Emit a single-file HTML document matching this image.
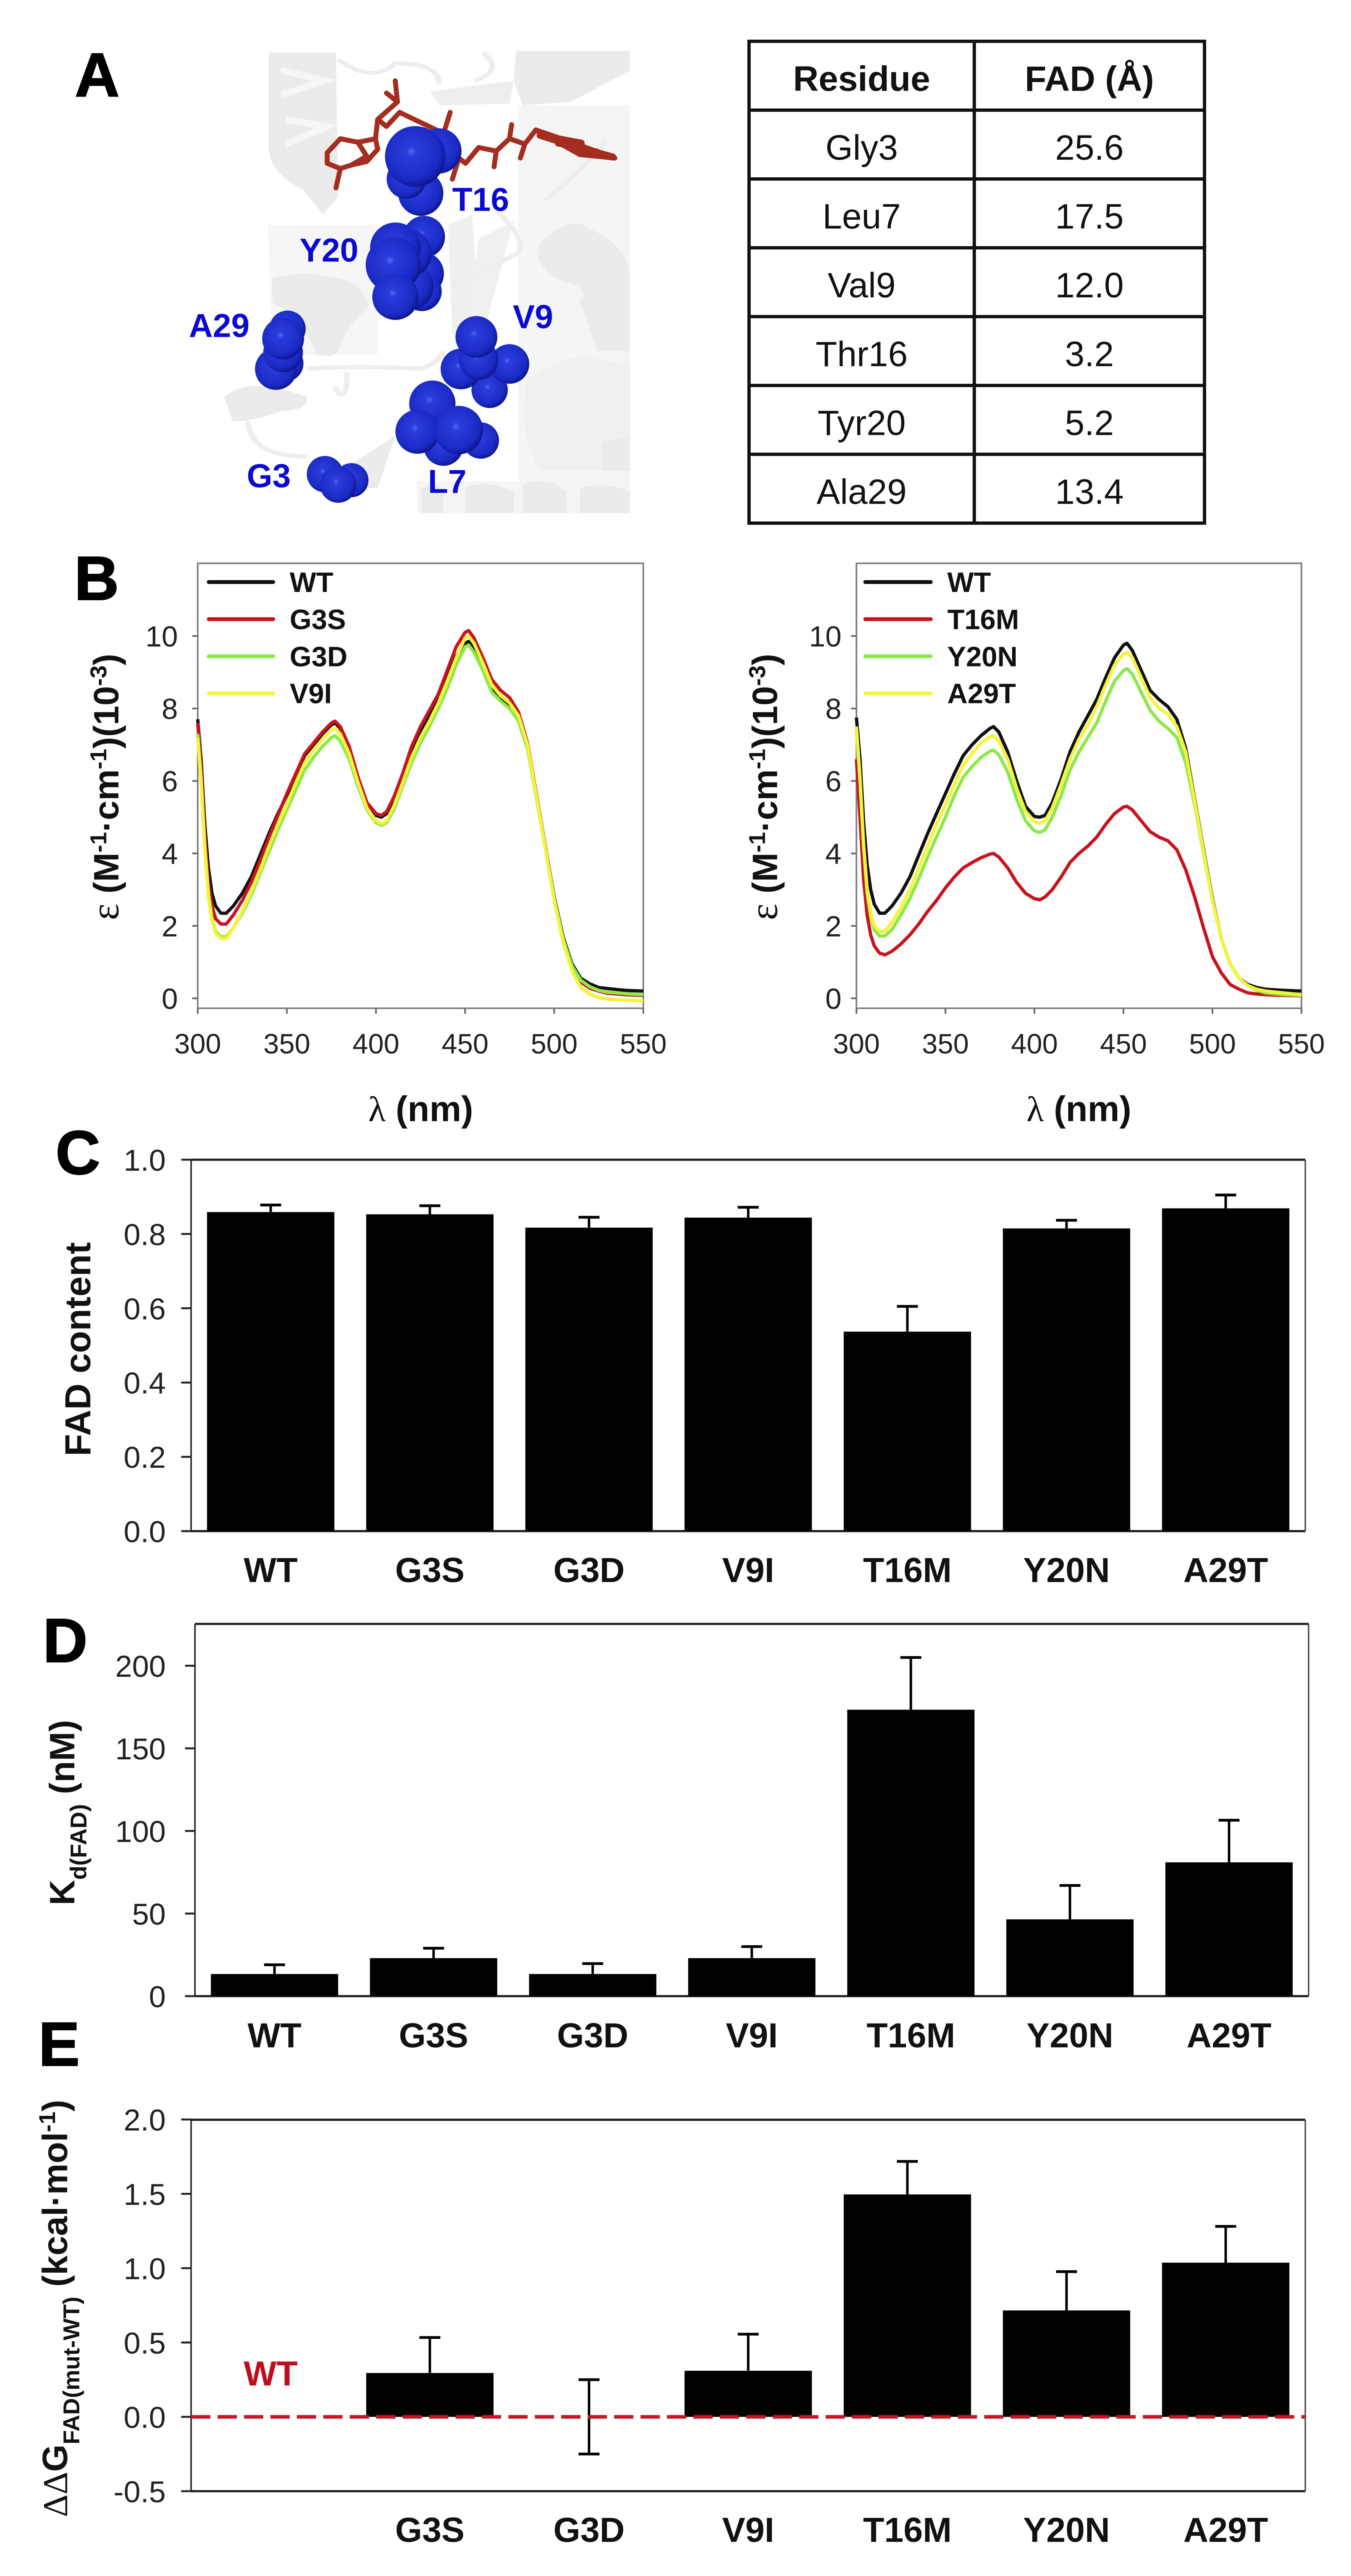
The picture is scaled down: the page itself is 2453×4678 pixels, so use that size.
<!DOCTYPE html>
<html lang="en">
<head>
<meta charset="utf-8">
<title>FAD binding figure</title>
<style>
html,body{margin:0;padding:0;background:#fff;}
body{position:relative;width:2453px;height:4678px;overflow:hidden;font-family:"Liberation Sans",sans-serif;}
#figure{position:absolute;left:0;top:0;filter:blur(0.8px);}
#residue-table{position:absolute;left:1357px;top:72px;width:827px;height:880px;border-collapse:collapse;table-layout:fixed;color:#111;font-size:64px;text-align:center;filter:blur(0.7px);}
#residue-table td,#residue-table th{border:6px solid #111;height:125px;padding:11px 0 0 0;box-sizing:border-box;line-height:1;}
#residue-table th{font-weight:bold;}
text{font-family:"Liberation Sans",sans-serif;}
.b{font-weight:bold;fill:#111;}
.t{fill:#222;}
.letter{font-weight:bold;font-size:112px;fill:#000;stroke:#000;stroke-width:2;}
.res{font-weight:bold;font-size:60px;fill:#0a0ad2;}
</style>
</head>
<body>
<svg id="figure" xmlns="http://www.w3.org/2000/svg" width="2453" height="4678" viewBox="0 0 2453 4678">
<defs>
<radialGradient id="sph" cx="44%" cy="42%" r="60%">
<stop offset="0" stop-color="#5566ee"/>
<stop offset=".14" stop-color="#2a3cdc"/>
<stop offset=".78" stop-color="#1a2ac4"/>
<stop offset="1" stop-color="#0e1488"/>
</radialGradient>
<clipPath id="protein-clip"><rect x="400" y="89" width="744" height="843"/></clipPath>
</defs>

<text class="letter" x="136" y="175">A</text>
<text class="letter" x="135" y="1089">B</text>
<text class="letter" x="101" y="2132">C</text>
<text class="letter" x="78" y="3018">D</text>
<text class="letter" x="70" y="3751">E</text>

<g clip-path="url(#protein-clip)">
<g transform="scale(0.7974,0.6378)" fill="#ebebeb">
<path d="M1180,300 H1435 V1462 H950 V1370 L1180,1370 Z" fill="#f5f5f5"/>
<path d="M610,640 H860 V1010 H620 Z" fill="#f6f6f6"/>
<path d="M612,150 L765,150 L770,560 L735,610 L690,540 Q620,500 612,430 Z"/>
<path d="M640,200 L740,230 L640,270 M650,340 L745,360 L650,410" fill="none" stroke="#f6f6f6" stroke-width="12" vector-effect="non-scaling-stroke"/>
<path d="M620,790 Q700,770 760,790 Q830,800 840,880 Q790,920 770,1000 Q760,1020 720,1010 Q700,920 620,860Z"/>
<path d="M510,1130 Q560,1080 650,1110 L700,1130 Q700,1170 640,1170 Q580,1200 530,1200Z"/>
<path d="M980,260 L1170,230 L1160,295 L1000,300Z" fill="#eeeeee"/>
<path d="M1175,145 L1435,145 L1435,200 L1300,290 L1190,300 L1170,230Z"/>
<path d="M1230,690 Q1300,610 1340,650 Q1435,700 1435,800 L1435,900 Q1330,900 1320,860 Q1350,820 1280,800 Q1210,760 1230,690Z"/>
<path d="M1020,640 L1075,610 L1090,900 L1030,950Z" fill="#efefef"/>
<path d="M1090,680 L1170,630 L1100,950 L1060,950Z" fill="#f0f0f0"/>
<path d="M1320,850 L1435,800 L1435,1000 L1360,1000Z"/>
<path d="M1200,1080 Q1300,1000 1350,1020 L1435,1040 L1435,1340 L1230,1340 Q1180,1240 1200,1080Z" fill="#f0f0f0"/>
<path d="M960,1390 Q1000,1370 1010,1400 L1010,1462 L960,1462Z"/>
<path d="M1060,1385 Q1120,1365 1170,1400 L1170,1462 L1060,1462Z"/>
<path d="M1190,1380 Q1240,1350 1290,1400 L1290,1462 L1190,1462Z"/>
<path d="M1320,1390 Q1380,1370 1435,1400 L1435,1462 L1320,1462Z"/>
<path d="M1370,1260 L1435,1240 L1435,1340 L1370,1340Z"/>
<path d="M790,1330 L900,1240 L860,1390 L830,1390Z"/>
<g fill="none" stroke="#eeeeee" stroke-width="12" vector-effect="non-scaling-stroke">
<path d="M565,1200 Q570,1300 700,1300"/>
<path d="M700,1050 Q800,1040 960,1050 Q1000,1030 1010,1000"/>
<path d="M770,170 Q850,240 900,180 Q1000,180 1000,240"/>
<path d="M760,1100 Q790,1160 790,1060"/>
<path d="M1100,150 Q1150,200 1080,230"/>
<path d="M1130,600 Q1200,680 1180,720 Q1100,770 1060,800"/>
<path d="M1380,400 Q1350,460 1240,570"/>
</g>
</g>
<g transform="scale(0.7974,0.6378)" fill="none" stroke="#a52d1f" stroke-width="9" stroke-linejoin="round" stroke-linecap="round">
<path vector-effect="non-scaling-stroke" d="M765,535 L775,480 L745,465 L745,435 L775,395 L815,405 L835,445 L800,470 L775,480 M815,405 L855,395 L860,425 L835,460 L800,470 M855,395 L860,340 L905,290 L900,230 M905,290 L880,265 M860,340 L880,360 L910,320 L960,350 L1010,380 L1025,320 M1010,380 L1045,450 L1030,510 M1045,450 L1060,465 L1090,420 L1130,430 L1125,475 M1130,430 L1160,395 L1165,355 M1160,395 L1195,410 L1185,450 M1195,410 L1220,370 L1290,400 L1400,450 M1220,370 L1320,440 L1400,450 M1240,385 L1325,405 L1330,435 M1270,410 L1360,430"/>
<path stroke-width="13" vector-effect="non-scaling-stroke" d="M1230,385 L1330,425 L1395,447"/>
</g>
<g fill="url(#sph)">
<circle cx="797" cy="274" r="41"/><circle cx="764" cy="351" r="41"/><circle cx="738" cy="325" r="36"/><circle cx="754" cy="284" r="55"/>
</g>
<g fill="url(#sph)">
<circle cx="770" cy="430" r="38"/><circle cx="766" cy="497" r="40"/><circle cx="766" cy="529" r="36"/><circle cx="745" cy="520" r="42"/><circle cx="740" cy="460" r="44"/><circle cx="718" cy="450" r="46"/><circle cx="714" cy="481" r="50"/><circle cx="718" cy="539" r="42"/>
</g>
<g fill="url(#sph)">
<circle cx="522" cy="597" r="33"/><circle cx="518" cy="660" r="33"/><circle cx="501" cy="670" r="38"/><circle cx="514" cy="640" r="36"/><circle cx="514" cy="615" r="38"/>
</g>
<g fill="url(#sph)">
<circle cx="889" cy="708" r="33"/><circle cx="925" cy="661" r="36"/><circle cx="837" cy="670" r="37"/><circle cx="869" cy="654" r="36"/><circle cx="865" cy="612" r="38"/>
</g>
<g fill="url(#sph)">
<circle cx="873" cy="800" r="33"/><circle cx="805" cy="810" r="36"/><circle cx="785" cy="733" r="42"/><circle cx="758" cy="784" r="40"/><circle cx="833" cy="781" r="44"/>
</g>
<g fill="url(#sph)">
<circle cx="638" cy="872" r="31"/><circle cx="590" cy="861" r="33"/><circle cx="614" cy="880" r="33"/>
</g>
</g>
<text class="res" x="821" y="383">T16</text>
<text class="res" x="544" y="475">Y20</text>
<text class="res" x="343" y="612">A29</text>
<text class="res" x="931" y="596">V9</text>
<text class="res" x="448" y="885">G3</text>
<text class="res" x="777" y="895">L7</text>

<g id="spectrum-left"></g>
<g id="spectrum-right"></g>
<g id="chart-c"></g>
<g id="chart-d"></g>
<g id="chart-e"></g>

<text class="b" transform="translate(215,1671) rotate(-90)" font-size="64"><tspan font-family="Liberation Serif" font-weight="normal" font-size="72">ε </tspan>(M<tspan font-size="42" dy="-22">-1</tspan><tspan dy="22">·cm</tspan><tspan font-size="42" dy="-22">-1</tspan><tspan dy="22">)(10</tspan><tspan font-size="42" dy="-22">-3</tspan><tspan dy="22">)</tspan></text>
<text class="b" transform="translate(1411,1671) rotate(-90)" font-size="64"><tspan font-family="Liberation Serif" font-weight="normal" font-size="72">ε </tspan>(M<tspan font-size="42" dy="-22">-1</tspan><tspan dy="22">·cm</tspan><tspan font-size="42" dy="-22">-1</tspan><tspan dy="22">)(10</tspan><tspan font-size="42" dy="-22">-3</tspan><tspan dy="22">)</tspan></text>
<text class="b" x="764" y="2036" font-size="65" text-anchor="middle"><tspan font-family="Liberation Serif" font-weight="normal">λ</tspan> (nm)</text>
<text class="b" x="1959" y="2036" font-size="65" text-anchor="middle"><tspan font-family="Liberation Serif" font-weight="normal">λ</tspan> (nm)</text>
<text class="b" transform="translate(164,2450) rotate(-90)" font-size="66" text-anchor="middle">FAD content</text>
<text class="b" transform="translate(135,3460) rotate(-90)" font-size="64">K<tspan font-size="42" dy="22">d(FAD)</tspan><tspan dy="-22"> (nM)</tspan></text>
<text class="b" transform="translate(122,4571) rotate(-90)" font-size="64"><tspan font-family="Liberation Serif" font-weight="normal">ΔΔ</tspan>G<tspan font-size="42" dy="22">FAD(mut-WT)</tspan><tspan dy="-22"> (kcal·mol</tspan><tspan font-size="42" dy="-22">-1</tspan><tspan dy="22">)</tspan></text>
</svg>

<table id="residue-table">
<colgroup><col style="width:409px"><col style="width:418px"></colgroup>
<tr><th>Residue</th><th>FAD (Å)</th></tr>
<tr><td>Gly3</td><td>25.6</td></tr>
<tr><td>Leu7</td><td>17.5</td></tr>
<tr><td>Val9</td><td>12.0</td></tr>
<tr><td>Thr16</td><td>3.2</td></tr>
<tr><td>Tyr20</td><td>5.2</td></tr>
<tr><td>Ala29</td><td>13.4</td></tr>
</table>

<script>
// ---------- Spectra data ----------
const wavelengths = [300,302,304,306,308,310,313,316,320,325,330,335,340,345,350,355,360,365,370,375,377,380,385,390,395,400,403,406,410,415,420,425,430,435,440,445,450,452,455,460,465,470,475,480,485,490,495,500,505,510,515,520,525,530,540,550];
const specXTicks = [300,350,400,450,500,550];
const specYTicks = [0,2,4,6,8,10];
const leftNames = ['WT','G3S','G3D','V9I'];
const rightNames = ['WT','T16M','Y20N','A29T'];
const seriesColors = ['#111111','#c8141e','#8ee84a','#f4f43c'];
const leftWT = [7.7,6.5,4.8,3.6,2.9,2.55,2.35,2.35,2.55,2.9,3.35,3.95,4.55,5.1,5.6,6.15,6.7,7.0,7.3,7.55,7.6,7.45,6.9,6.05,5.35,5.05,5.0,5.1,5.45,6.1,6.8,7.35,7.8,8.25,8.85,9.45,9.8,9.85,9.65,9.1,8.55,8.3,8.1,7.75,6.95,5.6,4.2,2.8,1.7,0.95,0.55,0.4,0.3,0.27,0.22,0.2];
const leftG3S = [7.6,6.3,4.5,3.2,2.55,2.2,2.05,2.05,2.3,2.7,3.2,3.8,4.45,5.05,5.65,6.2,6.75,7.05,7.35,7.6,7.65,7.5,6.95,6.1,5.4,5.1,5.05,5.15,5.55,6.2,6.95,7.5,7.95,8.4,9.05,9.7,10.1,10.15,9.95,9.4,8.8,8.5,8.3,7.9,7.05,5.65,4.2,2.75,1.6,0.85,0.45,0.28,0.2,0.14,0.1,0.08];
const leftG3D = [7.3,6.0,4.2,2.9,2.2,1.85,1.7,1.7,1.95,2.35,2.85,3.45,4.05,4.65,5.2,5.75,6.3,6.65,6.95,7.2,7.25,7.1,6.6,5.85,5.2,4.85,4.78,4.85,5.2,5.85,6.5,7.05,7.5,8.0,8.55,9.2,9.7,9.75,9.55,9.05,8.45,8.2,8.0,7.65,6.9,5.55,4.15,2.75,1.65,0.9,0.5,0.32,0.22,0.17,0.13,0.1];
const leftV9I = [7.2,5.9,4.1,2.8,2.15,1.8,1.65,1.65,1.95,2.4,2.95,3.55,4.2,4.8,5.35,5.95,6.5,6.85,7.15,7.4,7.45,7.3,6.75,5.95,5.25,4.9,4.82,4.9,5.3,5.95,6.65,7.2,7.65,8.15,8.75,9.4,9.95,10.0,9.8,9.25,8.65,8.35,8.15,7.8,7.0,5.6,4.15,2.7,1.55,0.75,0.3,0.12,0.02,-0.02,-0.05,-0.07];
const rightWT = [7.75,6.6,4.9,3.7,3.0,2.6,2.35,2.35,2.55,2.9,3.35,3.95,4.55,5.1,5.65,6.2,6.7,7.0,7.25,7.45,7.5,7.35,6.8,6.0,5.3,5.02,5.0,5.05,5.4,6.05,6.8,7.35,7.8,8.25,8.85,9.4,9.75,9.8,9.6,9.05,8.5,8.25,8.05,7.7,6.9,5.5,4.1,2.75,1.65,0.95,0.55,0.38,0.3,0.25,0.22,0.2];
const rightT16M = [6.6,5.0,3.3,2.3,1.75,1.45,1.25,1.2,1.3,1.5,1.75,2.05,2.4,2.7,3.05,3.35,3.6,3.75,3.88,3.98,4.0,3.9,3.6,3.2,2.9,2.75,2.72,2.8,3.0,3.35,3.75,4.0,4.2,4.45,4.8,5.1,5.28,5.3,5.2,4.9,4.6,4.45,4.35,4.1,3.55,2.8,1.95,1.15,0.7,0.38,0.25,0.15,0.12,0.1,0.08,0.07];
const rightY20N = [7.4,6.0,4.2,2.9,2.25,1.9,1.72,1.72,1.9,2.3,2.75,3.3,3.9,4.45,5.0,5.6,6.1,6.4,6.65,6.82,6.85,6.72,6.25,5.5,4.9,4.62,4.58,4.65,5.0,5.6,6.3,6.8,7.2,7.6,8.2,8.75,9.05,9.1,8.95,8.45,7.95,7.65,7.45,7.2,6.5,5.35,4.0,2.7,1.65,0.95,0.55,0.35,0.22,0.15,0.1,0.08];
const rightA29T = [7.5,6.1,4.3,3.0,2.35,2.0,1.85,1.85,2.1,2.5,3.0,3.6,4.2,4.8,5.35,5.9,6.45,6.75,7.05,7.22,7.25,7.1,6.6,5.8,5.15,4.87,4.83,4.9,5.25,5.9,6.6,7.15,7.55,8.05,8.65,9.2,9.5,9.55,9.4,8.85,8.3,8.0,7.85,7.5,6.8,5.45,4.05,2.7,1.65,0.95,0.55,0.35,0.25,0.2,0.15,0.1];

// ---------- Bar chart data ----------
const barCategories = ['WT','G3S','G3D','V9I','T16M','Y20N','A29T'];
const fadContent = [0.859,0.853,0.817,0.844,0.537,0.815,0.869];
const fadContentErr = [0.019,0.023,0.028,0.028,0.068,0.022,0.036];
const fadTicks = [0,0.2,0.4,0.6,0.8,1.0];
const fadTickLabels = ['0.0','0.2','0.4','0.6','0.8','1.0'];
const kdValues = [13.4,23,13.4,23,173.4,46.5,81];
const kdErr = [5.6,6,6.3,7,31.6,20.5,25.5];
const kdTicks = [0,50,100,150,200];
const kdTickLabels = ['0','50','100','150','200'];
const ddgCategories = ['','G3S','G3D','V9I','T16M','Y20N','A29T'];
const ddgValues = [0,0.295,0,0.31,1.496,0.716,1.037];
const ddgErrUp = [0,0.239,0.25,0.246,0.222,0.261,0.244];
const ddgErrDown = [0,0,0.25,0,0,0,0];
const ddgTicks = [-0.5,0,0.5,1.0,1.5,2.0];
const ddgTickLabels = ['-0.5','0.0','0.5','1.0','1.5','2.0'];

const NS = 'http://www.w3.org/2000/svg';
function mk(parent, tag, attrs, text) {
  const n = document.createElementNS(NS, tag);
  for (const k in attrs) n.setAttribute(k, attrs[k]);
  if (text !== undefined) n.textContent = text;
  parent.appendChild(n);
  return n;
}

function drawSpectrum(root, left, right, labelRight, legendLineX0, legendLineX1, legendTextX, names, seriesList) {
  const top = 1023, bottom = 1831, y0 = 1813, pxPerUnit = 65.8;
  const xS = v => left + (v - 300) * (right - left) / 250;
  const yS = v => y0 - v * pxPerUnit;
  const frame = mk(root, 'rect', {x: left, y: top, width: right - left, height: bottom - top, fill: 'none', stroke: '#808080', 'stroke-width': 3});
  
  
  specYTicks.forEach(v => {
    const t = mk(root, 'line', {x1: left - 10, x2: left, y1: yS(v), y2: yS(v), stroke: '#666', 'stroke-width': 3});
    
    
    const l = mk(root, 'text', {x: labelRight, y: yS(v) + 19, 'text-anchor': 'end', 'font-size': 53, class: 't'}, String(v));
    
    
  });
  specXTicks.forEach(v => {
    const t = mk(root, 'line', {x1: xS(v), x2: xS(v), y1: bottom, y2: bottom + 10, stroke: '#666', 'stroke-width': 3});
    
    
    const l = mk(root, 'text', {x: xS(v), y: 1913, 'text-anchor': 'middle', 'font-size': 51, class: 't'}, String(v));
    
    
  });
  seriesList.forEach((vals, i) => {
    const pts = vals.map((v, j) => xS(wavelengths[j]).toFixed(1) + ',' + yS(v).toFixed(1)).join(' ');
    const p = mk(root, 'polyline', {points: pts, fill: 'none', stroke: seriesColors[i], 'stroke-width': 6, 'stroke-linejoin': 'round'});
    
    
  });
  names.forEach((name, i) => {
    const ly = 1057 + i * 67.4;
    const ln = mk(root, 'line', {x1: legendLineX0, x2: legendLineX1, y1: ly, y2: ly, stroke: seriesColors[i], 'stroke-width': 7, 'stroke-linecap': 'round'});
    
    
    const tx = mk(root, 'text', {x: legendTextX, y: ly + 18, 'font-size': 51, class: 'b'}, name);
    
    
  });
}

function drawBars(root, o) {
  const yS = v => o.y0 - (v - o.v0) * o.pxPerUnit;
  const band = (o.right - o.left) / o.cats.length;
  const barW = band * 0.8;
  const xC = i => o.left + band * (i + 0.5);
  // frame
  const lv = mk(root, 'line', {x1: o.left, x2: o.left, y1: o.top, y2: o.bottom, stroke: '#333', 'stroke-width': 3});
  
  
  const rv = mk(root, 'line', {x1: o.right, x2: o.right, y1: o.top, y2: o.bottom, stroke: '#444', 'stroke-width': 2.5});
  
  
  const tl = mk(root, 'line', {x1: o.left, x2: o.right, y1: o.top, y2: o.top, stroke: '#222', 'stroke-width': 4});
  
  
  const bl = mk(root, 'line', {x1: o.left, x2: o.right, y1: o.bottom, y2: o.bottom, stroke: '#222', 'stroke-width': 4});
  
  
  o.ticks.forEach((v, i) => {
    const t = mk(root, 'line', {x1: o.left - 18, x2: o.left, y1: yS(v), y2: yS(v), stroke: '#222', 'stroke-width': 3.5});
    
    
    const l = mk(root, 'text', {x: 301, y: yS(v) + 20, 'text-anchor': 'end', 'font-size': 55, class: 't'}, o.tickLabels[i]);
    
    
  });
  o.cats.forEach((c, i) => {
    if (o.vals[i] !== 0) {
      const y = yS(o.vals[i]), base = yS(0);
      const b = mk(root, 'rect', {x: xC(i) - barW / 2, y: y, width: barW, height: base - y, fill: '#000'});
      
      
    }
    const up = o.errUp[i], down = o.errDown ? o.errDown[i] : 0;
    if (up > 0 || down > 0) {
      const yT = yS(o.vals[i] + up), yB = yS(o.vals[i] - down);
      const e = mk(root, 'line', {x1: xC(i), x2: xC(i), y1: yT, y2: yB, stroke: '#000', 'stroke-width': 4.5});
      
      
      const cap = mk(root, 'line', {x1: xC(i) - 19, x2: xC(i) + 19, y1: yT, y2: yT, stroke: '#000', 'stroke-width': 5});
      
      
      if (down > 0) {
        const cap2 = mk(root, 'line', {x1: xC(i) - 19, x2: xC(i) + 19, y1: yB, y2: yB, stroke: '#000', 'stroke-width': 5});
        
        
      }
    }
    if (c) {
      const l = mk(root, 'text', {x: xC(i), y: o.labelY, 'text-anchor': 'middle', 'font-size': 63, class: 'b'}, c);
      
      
    }
  });
  return {yS: yS, xC: xC};
}

drawSpectrum(document.getElementById('spectrum-left'), 359, 1168, 323, 379, 496, 526, leftNames, [leftWT, leftG3S, leftG3D, leftV9I]);
drawSpectrum(document.getElementById('spectrum-right'), 1555, 2363, 1528, 1571, 1690, 1720, rightNames, [rightWT, rightT16M, rightY20N, rightA29T]);

drawBars(document.getElementById('chart-c'), {left: 347, right: 2370, top: 2106, bottom: 2780.5, y0: 2780.5, v0: 0, pxPerUnit: 674.5, ticks: fadTicks, tickLabels: fadTickLabels, cats: barCategories, vals: fadContent, errUp: fadContentErr, labelY: 2873});
drawBars(document.getElementById('chart-d'), {left: 354, right: 2376, top: 2949, bottom: 3625, y0: 3625, v0: 0, pxPerUnit: 3, ticks: kdTicks, tickLabels: kdTickLabels, cats: barCategories, vals: kdValues, errUp: kdErr, labelY: 3718});
const ddgScale = drawBars(document.getElementById('chart-e'), {left: 347, right: 2370, top: 3849.5, bottom: 4524, y0: 4389, v0: 0, pxPerUnit: 270, ticks: ddgTicks, tickLabels: ddgTickLabels, cats: ddgCategories, vals: ddgValues, errUp: ddgErrUp, errDown: ddgErrDown, labelY: 4616});

const chartE = document.getElementById('chart-e');
const wtLine = mk(chartE, 'line', {x1: 347, x2: 2370, y1: ddgScale.yS(0), y2: ddgScale.yS(0), stroke: '#c0192a', 'stroke-width': 6.5, 'stroke-dasharray': '35 13'});


const wtLabel = mk(chartE, 'text', {x: ddgScale.xC(0), y: 4332, 'text-anchor': 'middle', 'font-size': 63, 'font-weight': 'bold', fill: '#c00d1e'}, 'WT');


</script>
</body>
</html>
